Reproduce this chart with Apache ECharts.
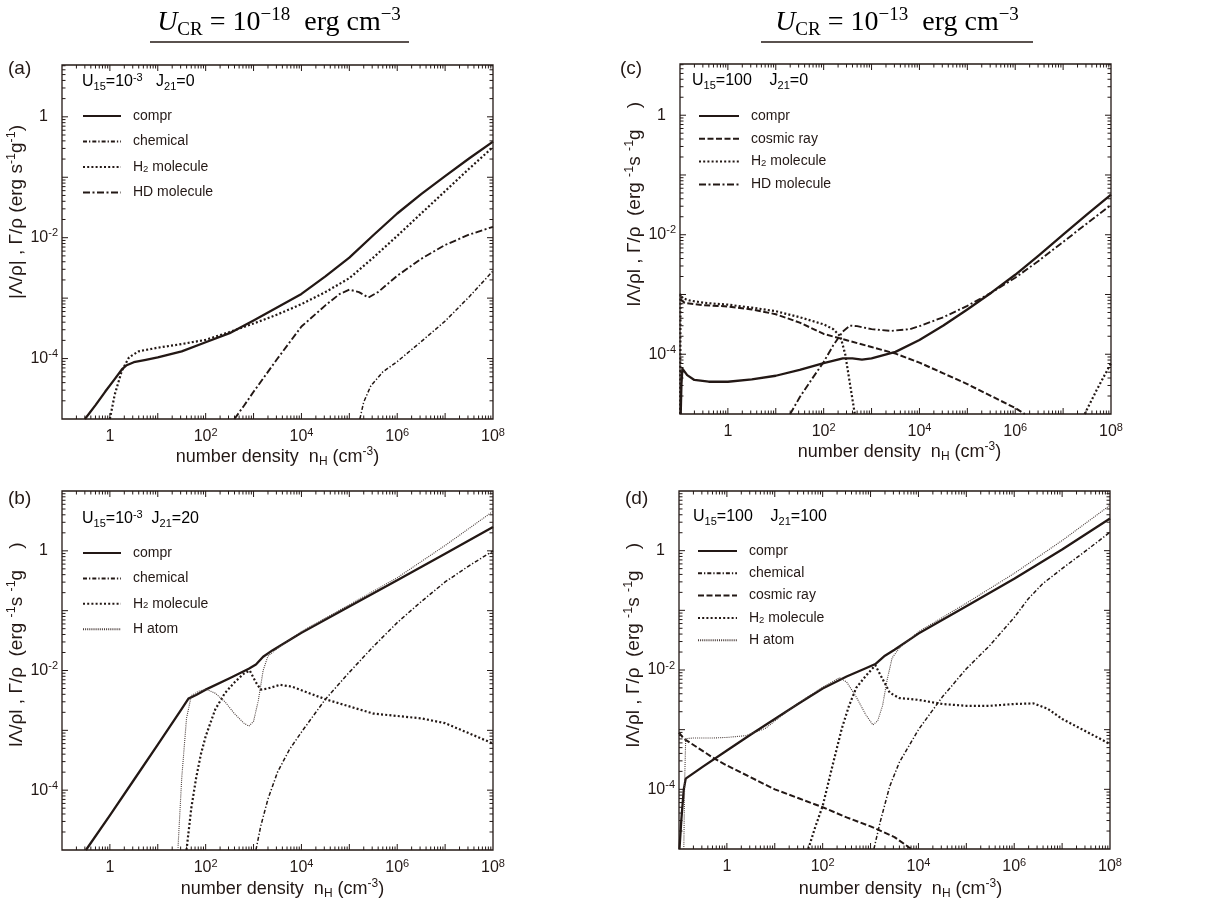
<!DOCTYPE html>
<html>
<head>
<meta charset="utf-8">
<script src="https://cdn.jsdelivr.net/npm/echarts@6/dist/echarts.min.js"></script>
<style>
  html, body { margin: 0; padding: 0; background: #ffffff; }
  #chart { width: 1219px; height: 902px; }
</style>
</head>
<body>
<div id="chart"></div>
<script>
// Curves are listed as [log10 nH (cm^-3), log10 |Λ/ρ| or Γ/ρ (erg s^-1 g^-1)].

// (a) U15 = 1e-3, J21 = 0
const aCompr = [[-0.52,-5.0],[-0.3,-4.77],[-0.1,-4.55],[0.1,-4.34],[0.25,-4.18],[0.35,-4.11],[0.5,-4.06],[0.75,-4.02],[1.0,-3.98],[1.5,-3.88],[2.0,-3.73],[2.5,-3.58],[3.0,-3.37],[3.5,-3.15],[4.0,-2.93],[4.5,-2.64],[5.0,-2.33],[5.5,-1.96],[6.0,-1.6],[6.5,-1.28],[7.0,-0.98],[7.5,-0.69],[8.0,-0.41]];
const aChem = [[5.22,-5.0],[5.3,-4.72],[5.45,-4.45],[5.7,-4.22],[6.0,-4.05],[6.5,-3.72],[7.0,-3.38],[7.5,-2.98],[8.0,-2.55]];
const aH2 = [[0.0,-5.0],[0.1,-4.6],[0.25,-4.2],[0.4,-3.98],[0.6,-3.88],[1.0,-3.82],[1.5,-3.76],[2.0,-3.69],[2.5,-3.56],[3.0,-3.42],[3.5,-3.27],[4.0,-3.1],[4.5,-2.9],[5.0,-2.67],[5.5,-2.33],[6.0,-1.97],[6.5,-1.6],[7.0,-1.23],[7.5,-0.86],[8.0,-0.5]];
const aHD = [[2.6,-5.0],[2.8,-4.78],[3.0,-4.55],[3.5,-4.0],[4.0,-3.47],[4.5,-3.12],[4.8,-2.93],[5.0,-2.86],[5.2,-2.9],[5.4,-2.99],[5.6,-2.9],[6.0,-2.63],[6.5,-2.35],[7.0,-2.12],[7.5,-1.95],[8.0,-1.82]];

// (b) U15 = 1e-3, J21 = 20
const bCompr = [[-0.5,-5.0],[0.0,-4.42],[0.5,-3.83],[1.0,-3.24],[1.5,-2.64],[1.64,-2.47],[1.8,-2.41],[2.0,-2.32],[2.5,-2.13],[2.9,-1.97],[3.05,-1.9],[3.2,-1.77],[3.4,-1.66],[4.0,-1.37],[5.0,-0.93],[6.0,-0.49],[7.0,-0.05],[8.0,0.4]];
const bChem = [[3.05,-5.0],[3.15,-4.6],[3.3,-4.15],[3.5,-3.7],[3.75,-3.32],[4.0,-3.03],[4.5,-2.48],[5.0,-2.03],[5.5,-1.6],[6.0,-1.2],[6.5,-0.85],[7.0,-0.52],[7.5,-0.25],[8.0,0.0]];
const bH2 = [[1.6,-5.0],[1.7,-4.3],[1.8,-3.8],[1.9,-3.4],[2.0,-3.1],[2.2,-2.65],[2.4,-2.38],[2.6,-2.2],[2.8,-2.05],[2.92,-2.0],[3.05,-2.2],[3.15,-2.32],[3.3,-2.3],[3.55,-2.24],[3.8,-2.27],[4.0,-2.33],[4.5,-2.48],[5.0,-2.6],[5.5,-2.72],[6.0,-2.76],[6.5,-2.8],[7.0,-2.88],[7.5,-3.05],[8.0,-3.22]];
const bHatom = [[1.42,-5.0],[1.5,-3.8],[1.6,-2.8],[1.7,-2.42],[1.85,-2.35],[2.0,-2.31],[2.2,-2.38],[2.4,-2.52],[2.6,-2.72],[2.8,-2.88],[2.9,-2.93],[3.0,-2.85],[3.1,-2.5],[3.2,-2.0],[3.3,-1.76],[3.5,-1.63],[4.0,-1.35],[5.0,-0.9],[6.0,-0.45],[7.0,0.09],[8.0,0.66]];

// (c) U15 = 100, J21 = 0
const cCompr = [[-0.985,-5.0],[-0.97,-4.5],[-0.95,-4.24],[-0.92,-4.25],[-0.85,-4.35],[-0.7,-4.43],[-0.4,-4.46],[0.0,-4.46],[0.5,-4.42],[1.0,-4.36],[1.5,-4.26],[2.0,-4.15],[2.4,-4.07],[2.6,-4.07],[2.8,-4.09],[3.0,-4.07],[3.5,-3.96],[4.0,-3.76],[4.5,-3.52],[5.0,-3.25],[5.5,-2.97],[6.0,-2.67],[6.5,-2.34],[7.0,-2.0],[7.5,-1.66],[8.0,-1.33]];
const cCosmic = [[-1.0,-3.08],[-0.9,-3.14],[-0.5,-3.18],[0.0,-3.2],[0.5,-3.25],[1.0,-3.33],[1.5,-3.47],[2.0,-3.66],[2.5,-3.77],[3.0,-3.88],[3.5,-3.99],[4.0,-4.14],[4.5,-4.32],[5.0,-4.5],[5.5,-4.7],[6.0,-4.9],[6.2,-5.0]];
const cH2Low = [[-0.995,-5.0],[-0.99,-3.0],[-0.95,-3.06],[-0.8,-3.1],[-0.5,-3.14],[0.0,-3.17],[0.5,-3.22],[1.0,-3.28],[1.5,-3.38],[2.0,-3.5],[2.2,-3.58],[2.35,-3.7],[2.45,-4.0],[2.55,-4.5],[2.65,-5.0]];
const cH2High = [[7.45,-5.0],[7.7,-4.6],[8.0,-4.15]];
const cHD = [[1.3,-5.0],[1.5,-4.72],[1.75,-4.42],[2.0,-4.13],[2.2,-3.85],[2.4,-3.62],[2.55,-3.52],[2.7,-3.53],[3.0,-3.58],[3.4,-3.61],[3.8,-3.58],[4.0,-3.53],[4.5,-3.38],[5.0,-3.19],[5.5,-2.97],[6.0,-2.72],[6.5,-2.43],[7.0,-2.12],[7.5,-1.81],[8.0,-1.5]];

// (d) U15 = 100, J21 = 100
const dCompr = [[-0.99,-5.0],[-0.95,-4.5],[-0.9,-4.0],[-0.86,-3.82],[-0.5,-3.62],[0.0,-3.35],[0.5,-3.08],[1.0,-2.82],[1.5,-2.56],[2.0,-2.31],[2.5,-2.11],[2.9,-1.97],[3.1,-1.9],[3.3,-1.76],[3.5,-1.66],[4.0,-1.39],[5.0,-0.93],[6.0,-0.47],[7.0,0.02],[8.0,0.54]];
const dChem = [[3.07,-5.0],[3.2,-4.55],[3.4,-3.95],[3.6,-3.55],[4.0,-3.0],[4.5,-2.45],[5.0,-1.98],[5.5,-1.58],[6.0,-1.12],[6.3,-0.8],[6.6,-0.55],[7.0,-0.3],[7.5,0.0],[8.0,0.31]];
const dCosmic = [[-1.0,-3.05],[-0.9,-3.15],[-0.5,-3.36],[-0.25,-3.49],[0.0,-3.6],[0.5,-3.8],[1.0,-4.0],[1.5,-4.15],[2.0,-4.3],[2.5,-4.47],[3.0,-4.62],[3.5,-4.8],[3.85,-5.0]];
const dH2 = [[1.7,-5.0],[1.85,-4.62],[2.0,-4.28],[2.2,-3.62],[2.4,-2.98],[2.55,-2.6],[2.7,-2.3],[2.9,-2.1],[3.1,-1.92],[3.25,-2.15],[3.4,-2.38],[3.6,-2.47],[4.0,-2.5],[4.5,-2.57],[5.0,-2.6],[5.5,-2.6],[6.0,-2.57],[6.4,-2.56],[6.7,-2.65],[7.0,-2.82],[7.5,-3.03],[8.0,-3.24]];
const dHatom = [[-0.9,-5.0],[-0.88,-3.8],[-0.86,-3.15],[-0.7,-3.14],[-0.3,-3.14],[0.0,-3.13],[0.4,-3.1],[0.8,-2.98],[1.2,-2.73],[1.5,-2.55],[2.0,-2.29],[2.35,-2.13],[2.5,-2.2],[2.7,-2.45],[2.9,-2.75],[3.05,-2.92],[3.15,-2.85],[3.25,-2.6],[3.35,-2.15],[3.45,-1.8],[3.6,-1.63],[4.0,-1.36],[5.0,-0.88],[6.0,-0.38],[7.0,0.17],[8.0,0.76]];

// Axis ticks: decades (exponents) and the 2..9 sub-steps inside each decade
const xDecades = [-1, 0, 1, 2, 3, 4, 5, 6, 7, 8];
const yDecades = [-5, -4, -3, -2, -1, 0, 1];
const minorSteps = [2, 3, 4, 5, 6, 7, 8, 9];

const INK = '#231815';
const SANS = '"Liberation Sans", Arial, sans-serif';
const SERIF = '"Liberation Serif", "DejaVu Serif", serif';

const lineLook = {
  'compr':       { width: 2.3, type: 'solid' },
  'chemical':    { width: 1.5, type: [4, 2, 1.3, 2] },
  'cosmic ray':  { width: 2.0, type: [6, 2.5] },
  'H2 molecule': { width: 2.2, type: [2, 2.2] },
  'HD molecule': { width: 1.9, type: [7, 2.5, 2, 2.5] },
  'H atom':      { width: 1.1, type: [1, 1.1], color: '#4a3d3a' }
};

const yNameA = '{t||Λ/ρ| , Γ/ρ (erg s}{s|-1}{t|g}{s|-1}{t|)}';
const yNameB = '{t|lΛ/ρl , Γ/ρ  (erg }{s|-1}{t|s }{s|-1}{t|g    )}';
const xName = '{t|number density  n}{sub|H}{t| (cm}{sup|-3}{t|)}';

const panels = [
  { grid: { left: 62, top: 65, width: 431, height: 354 }, yMax: 7.2,
    curves: [['compr', aCompr], ['chemical', aChem], ['H2 molecule', aH2], ['HD molecule', aHD]],
    legend: { left: 82, top: 109, gap: 11.5, w: 38 },
    yName: yNameA, yPad: 60, xGap: 22, xPad: 0 },
  { grid: { left: 62, top: 491, width: 431, height: 359 }, yMax: 10,
    curves: [['compr', bCompr], ['chemical', bChem], ['H2 molecule', bH2], ['H atom', bHatom]],
    legend: { left: 82, top: 546, gap: 11.4, w: 38 },
    yName: yNameB, yPad: 52, xGap: 28, xPad: 10 },
  { grid: { left: 680, top: 64, width: 431, height: 350 }, yMax: 7.2,
    curves: [['compr', cCompr], ['cosmic ray', cCosmic], ['H2 molecule', cH2Low], ['H2 molecule', cH2High], ['HD molecule', cHD]],
    legend: { left: 698, top: 109, gap: 8.8, w: 40 },
    yName: yNameB, yPad: 70, xGap: 26, xPad: 8 },
  { grid: { left: 679, top: 491, width: 431, height: 358 }, yMax: 10,
    curves: [['compr', dCompr], ['chemical', dChem], ['cosmic ray', dCosmic], ['H2 molecule', dH2], ['H atom', dHatom]],
    legend: { left: 697, top: 544, gap: 8.3, w: 39 },
    yName: yNameB, yPad: 50, xGap: 29, xPad: 12 }
];

const toPoints = arr => arr.map(p => [Math.pow(10, p[0]), Math.pow(10, p[1])]);

function decadeLabel(isY) {
  return function (v) {
    const e = Math.log10(v);
    const r = Math.round(e);
    if (Math.abs(e - r) > 1e-6 || r % 2 !== 0) return '';
    if (r === 0) return isY ? '{b|1}{gap| }' : '{b|1}';
    return '{b|10}{s|' + r + '}';
  };
}
const tickRich = {
  b: { fontFamily: SANS, fontSize: 16, lineHeight: 20, color: INK },
  s: { fontFamily: SANS, fontSize: 11, lineHeight: 11, verticalAlign: 'top', color: INK },
  gap: { width: 10, fontSize: 11 }
};
const nameRich = {
  t: { fontFamily: SANS, fontSize: 18, lineHeight: 22, color: INK },
  s: { fontFamily: SANS, fontSize: 12, lineHeight: 12, verticalAlign: 'top', color: INK },
  sub: { fontFamily: SANS, fontSize: 12, lineHeight: 17, verticalAlign: 'bottom', color: INK },
  sup: { fontFamily: SANS, fontSize: 12, lineHeight: 12, verticalAlign: 'top', color: INK }
};
const yNameRich = {
  t: { fontFamily: SANS, fontSize: 19, lineHeight: 23, color: INK },
  s: { fontFamily: SANS, fontSize: 12.5, lineHeight: 12, verticalAlign: 'top', color: INK }
};
const legendRich = {
  n: { fontFamily: SANS, fontSize: 14, lineHeight: 14, color: INK },
  s: { fontFamily: SANS, fontSize: 9.5, lineHeight: 12, verticalAlign: 'bottom', color: INK }
};

// tick items: [x, y, kind (0 = x tick, 1 = y tick), major flag]
function tickItems(yMax) {
  const items = [];
  xDecades.forEach(k => {
    items.push([Math.pow(10, k), 1, 0, 1]);
    if (k < 8) minorSteps.forEach(m => items.push([m * Math.pow(10, k), 1, 0, 0]));
  });
  yDecades.forEach(k => {
    const v = Math.pow(10, k);
    if (v <= yMax) items.push([1, v, 1, 1]);
    minorSteps.forEach(m => { if (m * v < yMax) items.push([1, m * v, 1, 0]); });
  });
  return items;
}

function renderTick(params, api) {
  const cs = params.coordSys;
  const kind = api.value(2);
  const len = api.value(3) ? 6 : 3.5;
  const st = { stroke: INK, lineWidth: 1 };
  if (kind === 0) {
    const px = api.coord([api.value(0), 1])[0];
    if (px < cs.x + 0.5 || px > cs.x + cs.width - 0.5) return null;
    const b = cs.y + cs.height, t = cs.y;
    return { type: 'group', children: [
      { type: 'line', shape: { x1: px, y1: b, x2: px, y2: b - len }, style: st },
      { type: 'line', shape: { x1: px, y1: t, x2: px, y2: t + len }, style: st }
    ]};
  }
  const py = api.coord([1, api.value(1)])[1];
  if (py < cs.y + 0.5 || py > cs.y + cs.height - 0.5) return null;
  const l = cs.x, r = cs.x + cs.width;
  return { type: 'group', children: [
    { type: 'line', shape: { x1: l, y1: py, x2: l + len, y2: py }, style: st },
    { type: 'line', shape: { x1: r, y1: py, x2: r - len, y2: py }, style: st }
  ]};
}

const grids = [], xAxes = [], yAxes = [], series = [], legends = [];
panels.forEach((p, i) => {
  grids.push(Object.assign({ show: true, borderColor: INK, borderWidth: 1.3, backgroundColor: 'transparent' }, p.grid));
  xAxes.push({
    type: 'log', logBase: 10, gridIndex: i, min: 0.1, max: 1e8,
    axisLine: { show: false }, axisTick: { show: false }, splitLine: { show: false },
    axisLabel: { interval: 0, margin: 8, formatter: decadeLabel(false), rich: tickRich, color: INK },
    name: xName, nameLocation: 'middle', nameGap: p.xGap,
    nameTextStyle: { rich: nameRich, color: INK, padding: [0, 0, 0, p.xPad] }
  });
  yAxes.push({
    type: 'log', logBase: 10, gridIndex: i, min: 1e-5, max: p.yMax,
    axisLine: { show: false }, axisTick: { show: false }, splitLine: { show: false },
    axisLabel: { interval: 0, margin: 4, formatter: decadeLabel(true), rich: tickRich, color: INK },
    name: p.yName, nameLocation: 'middle', nameRotate: 90, nameGap: 29,
    nameTextStyle: { rich: yNameRich, color: INK, padding: [0, 0, 0, p.yPad] }
  });
  const names = [];
  p.curves.forEach(([name, pts]) => {
    const look = lineLook[name];
    if (names.indexOf(name) < 0) names.push(name);
    series.push({
      type: 'line', name: name, xAxisIndex: i, yAxisIndex: i,
      data: toPoints(pts), showSymbol: false, symbol: 'none',
      smooth: false, silent: true,
      color: look.color || INK,
      lineStyle: { color: look.color || INK, width: look.width, type: look.type, cap: 'butt', join: 'round' }
    });
  });
  series.push({
    type: 'custom', xAxisIndex: i, yAxisIndex: i, silent: true, z: 5,
    dimensions: ['x', 'y', 'kind', 'major'], encode: { x: 0, y: 1 },
    data: tickItems(p.yMax), renderItem: renderTick
  });
  legends.push({
    orient: 'vertical', left: p.legend.left, top: p.legend.top, padding: 0,
    itemWidth: p.legend.w, itemHeight: 12, itemGap: p.legend.gap, selectedMode: false,
    itemStyle: { opacity: 0, color: 'transparent', borderWidth: 0 },
    data: names,
    formatter: n => n === 'H2 molecule' ? '{n|H}{s|2}{n| molecule}' : '{n|' + n + '}',
    textStyle: { color: INK, fontFamily: SANS, fontSize: 14, lineHeight: 14, padding: [0, 0, 0, 7], rich: legendRich }
  });
});

const headRich = {
  i: { fontFamily: SERIF, fontSize: 28, fontStyle: 'italic', lineHeight: 34, color: INK },
  r: { fontFamily: SERIF, fontSize: 28, lineHeight: 34, color: INK },
  sub: { fontFamily: SERIF, fontSize: 19, lineHeight: 23, verticalAlign: 'bottom', color: INK },
  sup: { fontFamily: SERIF, fontSize: 19, lineHeight: 23, verticalAlign: 'top', color: INK }
};
const noteRich = {
  m: { fontFamily: SANS, fontSize: 16, lineHeight: 20, color: INK },
  s: { fontFamily: SANS, fontSize: 11, lineHeight: 17, verticalAlign: 'bottom', color: INK },
  p: { fontFamily: SANS, fontSize: 11, lineHeight: 12, verticalAlign: 'top', color: INK }
};
function headText(x, exp) {
  return { type: 'text', x: x, y: 23, style: {
    text: '{i|U}{sub|CR}{r| = 10}{sup|−' + exp + '}{r|  erg cm}{sup|−3}',
    rich: headRich, align: 'center', verticalAlign: 'middle' } };
}
function letter(x, y, s) {
  return { type: 'text', x: x, y: y, style: { text: s, fill: INK, font: '19px ' + SANS, verticalAlign: 'middle' } };
}
function note(x, y, s) {
  return { type: 'text', x: x, y: y, style: { text: s, rich: noteRich, verticalAlign: 'middle' } };
}

const graphics = [
  headText(279, '18'),
  { type: 'line', shape: { x1: 150, y1: 42, x2: 409, y2: 42 }, style: { stroke: INK, lineWidth: 1.3 } },
  headText(897, '13'),
  { type: 'line', shape: { x1: 761, y1: 42, x2: 1033, y2: 42 }, style: { stroke: INK, lineWidth: 1.3 } },
  letter(8, 69, '(a)'), letter(8, 499, '(b)'), letter(620, 69, '(c)'), letter(625, 499, '(d)'),
  note(82, 82, '{m|U}{s|15}{m|=10}{p|-3}{m|   J}{s|21}{m|=0}'),
  note(82, 519, '{m|U}{s|15}{m|=10}{p|-3}{m|  J}{s|21}{m|=20}'),
  note(692, 81, '{m|U}{s|15}{m|=100    J}{s|21}{m|=0}'),
  note(693, 517, '{m|U}{s|15}{m|=100    J}{s|21}{m|=100}')
];

const chart = echarts.init(document.getElementById('chart'), null, { renderer: 'canvas' });
chart.setOption({
  animation: false,
  backgroundColor: '#ffffff',
  grid: grids, xAxis: xAxes, yAxis: yAxes, legend: legends,
  series: series, graphic: graphics
});
</script>
</body>
</html>
